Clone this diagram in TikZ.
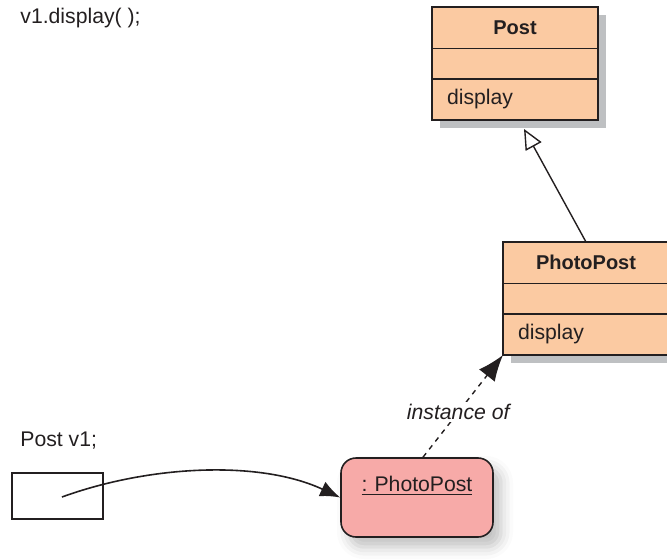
\documentclass[tikz,border=0pt]{standalone}
\usepackage{fontspec}
\setmainfont{Liberation Sans}
\usetikzlibrary{positioning,arrows.meta,shadows,shadows.blur}

\definecolor{classfill}{RGB}{251,202,162}
\definecolor{objfill}{RGB}{247,170,168}
\definecolor{ink}{RGB}{35,31,32}
\definecolor{shadowgray}{RGB}{190,192,194}

\tikzset{
  classpart/.style={draw=ink, fill=classfill, line width=0.7pt, minimum width=83pt,
    inner sep=0pt, outer sep=0pt,
    drop shadow={shadow xshift=4pt, shadow yshift=-4pt, fill=shadowgray, opacity=1}},
  namepart/.style={classpart, minimum height=20.75pt, font=\bfseries},
  attrpart/.style={classpart, minimum height=15.25pt},
  opspart/.style={classpart, minimum height=20.5pt, text width=68pt, align=left},
  objbox/.style={draw=ink, fill=objfill, line width=0.8pt, rounded corners=7.5pt,
    inner sep=0pt, text width=76pt, align=center, text height=16.75pt, text depth=22.75pt,
    blur shadow={shadow xshift=4pt, shadow yshift=-5pt, shadow blur radius=6pt, shadow opacity=25}},
  varrect/.style={draw=ink, line width=0.8pt, minimum width=45.5pt, minimum height=23pt, inner sep=0pt},
  plain/.style={inner sep=0pt, anchor=west}
}

\begin{document}
\begin{tikzpicture}[x=0.5pt, y=-0.5pt, color=ink, font=\fontsize{10.6}{12.7}\selectfont]
\useasboundingbox (0,0) rectangle (667,560);
\clip (0,0) rectangle (667,560);

% code lines
\node[plain] (call) at (20,18) {v1.display( );};
\node[plain] (decl) at (20,441) {Post v1;};

% classes
\node[namepart, anchor=north] (postname) at (515,7) {Post};
\node[attrpart, below=0pt of postname] (postattr) {};
\node[opspart, below=0pt of postattr] (postops) {display};

\node[namepart, anchor=north] (photoname) at (586,242) {PhotoPost};
\node[attrpart, below=0pt of photoname] (photoattr) {};
\node[opspart, below=0pt of photoattr] (photoops) {display};

% object and variable
\node[objbox] (photoobj) at (417,497.5) {\underline{:\ PhotoPost}};
\node[varrect] (v1box) at (57.5,496) {};
\coordinate (v1start) at (62,497);
\coordinate (superend) at ([shift={(9,9)}]postops.south);

% connectors
\draw[line width=0.7pt, -{Triangle[open, length=10pt, width=9pt]}] (photoname.north) -- (superend);
\draw[line width=0.7pt, dash pattern=on 2.5pt off 2.5pt, -{Latex[length=13pt, width=10pt]}]
  ([xshift=3pt]photoobj.north) -- (photoops.south west)
  node[pos=0.44, fill=white, inner sep=1pt, font=\fontsize{10.6}{12.7}\selectfont\itshape] {instance of};
\draw[line width=0.8pt, -{Latex[length=10pt, width=8pt]}]
  (v1start) .. controls (150,465) and (260,460) .. (photoobj.west);

\end{tikzpicture}
\end{document}
